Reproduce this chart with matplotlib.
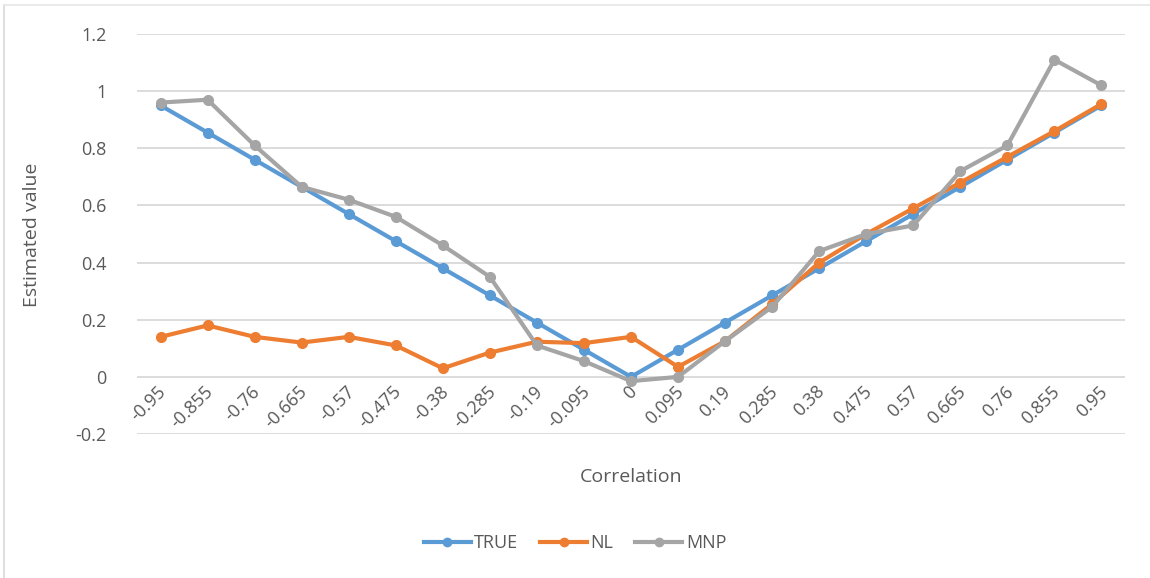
import matplotlib
matplotlib.use("Agg")
import matplotlib.pyplot as plt
from matplotlib.lines import Line2D

plt.rcParams["font.family"] = ["Open Sans", "DejaVu Sans"]

# 相关系数类别（横轴）
correlation = ["-0.95", "-0.855", "-0.76", "-0.665", "-0.57", "-0.475", "-0.38",
               "-0.285", "-0.19", "-0.095", "0", "0.095", "0.19", "0.285", "0.38",
               "0.475", "0.57", "0.665", "0.76", "0.855", "0.95"]

true_vals = [0.95, 0.855, 0.76, 0.665, 0.57, 0.475, 0.38, 0.285, 0.19, 0.095, 0.0,
             0.095, 0.19, 0.285, 0.38, 0.475, 0.57, 0.665, 0.76, 0.855, 0.95]
nl_vals = [0.14, 0.18, 0.14, 0.12, 0.14, 0.11, 0.03, 0.085, 0.123, 0.118, 0.14,
           0.035, 0.125, 0.255, 0.40, 0.50, 0.59, 0.68, 0.77, 0.86, 0.955]
mnp_vals = [0.96, 0.97, 0.81, 0.665, 0.62, 0.56, 0.46, 0.35, 0.11, 0.055, -0.015,
            0.0, 0.125, 0.245, 0.44, 0.50, 0.53, 0.72, 0.81, 1.11, 1.02]

series = [("TRUE", true_vals, "#5B9BD5"),
          ("NL", nl_vals, "#ED7D31"),
          ("MNP", mnp_vals, "#A5A5A5")]

text_color = "#595959"

fig = plt.figure(figsize=(11.5, 5.78), dpi=100)
ax = fig.add_axes([137 / 1150, 1 - 434 / 578, (1125 - 137) / 1150, (434 - 34) / 578])

x = list(range(len(correlation)))
for name, vals, color in series:
    ax.plot(x, vals, color=color, linewidth=3, marker="o", markersize=7,
            label=name, solid_joinstyle="round")

ax.set_xlim(-0.5, len(correlation) - 0.5)
ax.set_ylim(-0.2, 1.2)
ax.set_yticks([-0.2, 0, 0.2, 0.4, 0.6, 0.8, 1.0, 1.2])
ax.set_yticklabels(["-0.2", "0", "0.2", "0.4", "0.6", "0.8", "1", "1.2"])
ax.tick_params(axis="y", length=0, pad=22, labelsize=13, labelcolor=text_color)
ax.set_xticks([])
ax.grid(axis="y", color="#D9D9D9", linewidth=1.3)
ax.set_axisbelow(True)
for s in ax.spines.values():
    s.set_visible(False)

# 横轴在 y=0 处，标签斜放在轴线下方
for i, lab in enumerate(correlation):
    ax.annotate(lab, xy=(i, 0), xytext=(3, -12), textcoords="offset pixels",
                ha="right", va="center", rotation=45, rotation_mode="anchor",
                fontsize=13, color=text_color)

fig.text(631 / 1150, 1 - 477 / 578, "Correlation", ha="center", va="center",
         fontsize=14, color=text_color)
fig.text(32 / 1150, 1 - 235 / 578, "Estimated value", ha="center", va="center",
         rotation=90, fontsize=14, color=text_color)

handles = [Line2D([], [], color=c, linewidth=3, marker="o", markersize=6)
           for _, _, c in series]
fig.legend(handles, [n for n, _, _ in series], loc="center",
           bbox_to_anchor=(575 / 1150, 1 - 543 / 578), ncol=3, frameon=False,
           fontsize=13, handlelength=2.6, columnspacing=1.2, handletextpad=0.2,
           labelcolor=text_color)

# 图表区边框（左、上）
fig.add_artist(Line2D([4 / 1150, 4 / 1150], [0, 1 - 5 / 578], color="#D9D9D9",
                      linewidth=1.2, transform=fig.transFigure))
fig.add_artist(Line2D([4 / 1150, 1], [1 - 5 / 578, 1 - 5 / 578], color="#E6E6E6",
                      linewidth=1.2, transform=fig.transFigure))

fig.savefig("out.png", dpi=100)
